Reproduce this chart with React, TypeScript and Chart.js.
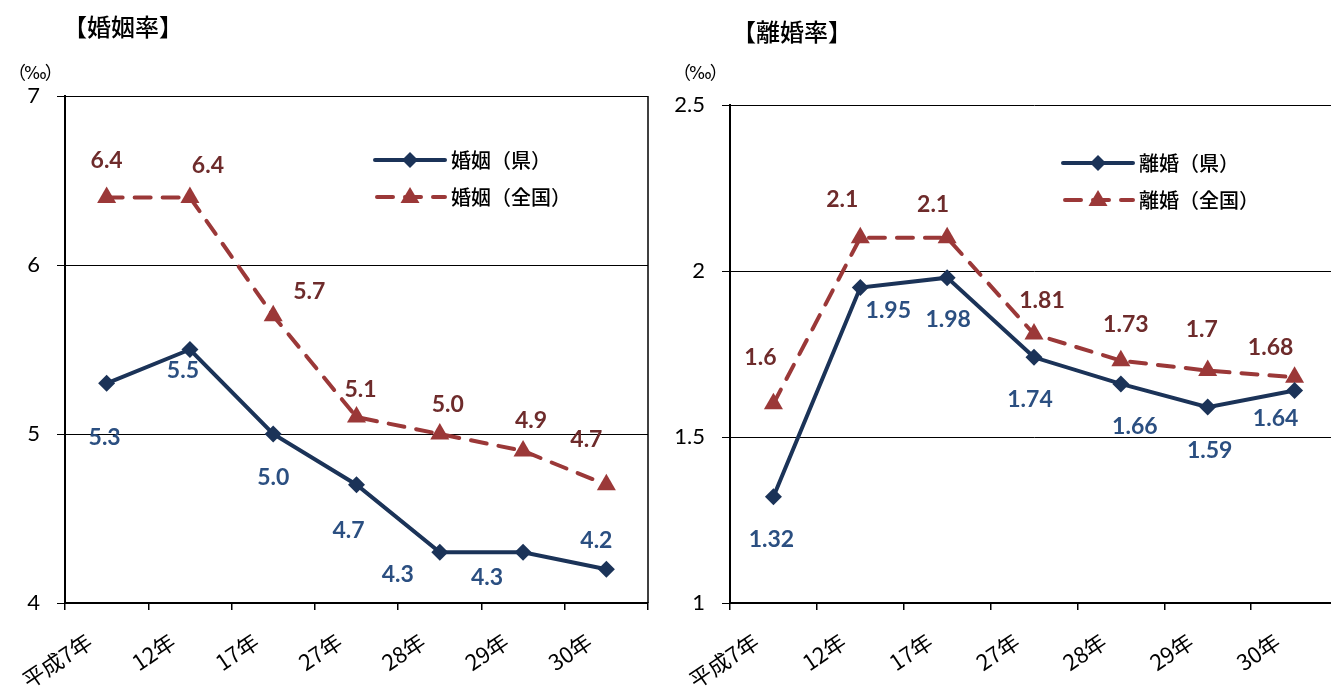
import React, { useEffect, useRef } from "react";
import { Chart, registerables } from "chart.js";

Chart.register(...registerables);

const categories = ["平成7年", "12年", "17年", "27年", "28年", "29年", "30年"];

const marriagePref = [5.3, 5.5, 5.0, 4.7, 4.3, 4.3, 4.2];
const marriageNation = [6.4, 6.4, 5.7, 5.1, 5.0, 4.9, 4.7];
const divorcePref = [1.32, 1.95, 1.98, 1.74, 1.66, 1.59, 1.64];
const divorceNation = [1.6, 2.1, 2.1, 1.81, 1.73, 1.7, 1.68];

const marriageTicks = [4, 5, 6, 7];
const divorceTicks = [1, 1.5, 2, 2.5];

const marriageLegend = ["婚姻（県）", "婚姻（全国）"];
const divorceLegend = ["離婚（県）", "離婚（全国）"];

// label offsets (dx, dy) relative to each point
const marriagePrefOff = [[-2, 54], [-7, 21], [0, 44], [-8, 46], [-42, 22], [-36, 25], [-10, -29]];
const marriageNationOff = [[0, -37], [18, -32], [36, -24], [4, -28], [8, -29], [8, -30], [-20, -45]];
const divorcePrefOff = [[-2, 43], [28, 23], [1, 42], [-4, 42], [14, 43], [2, 43], [-19, 28]];
const divorceNationOff = [[-13, -46], [-18, -38], [-14, -33], [8, -34], [5, -36], [-6, -41], [-24, -30]];

const PREF_LINE = "#1B3358";
const NATION_LINE = "#9B3838";
const PREF_TEXT = "#2B4F81";
const NATION_TEXT = "#6E2B2B";
const JP = '"Noto Sans CJK JP", sans-serif';
const NUM = 'Lato, "Noto Sans", sans-serif';

type PanelCfg = {
  pref: number[];
  nation: number[];
  ticks: number[];
  legend: string[];
  prefOff: number[][];
  nationOff: number[][];
  fmt: (v: number) => string;
  width: number;
  top: number;
  rightPad: number;
  yWidth: number;
  legendX: number;
  legendY: number;
  rightBorder: boolean;
};

function drawMarker(ctx: CanvasRenderingContext2D, style: string, x: number, y: number, r: number, color: string) {
  ctx.save();
  ctx.fillStyle = color;
  ctx.beginPath();
  if (style === "rectRot") {
    ctx.moveTo(x, y - r);
    ctx.lineTo(x + r, y);
    ctx.lineTo(x, y + r);
    ctx.lineTo(x - r, y);
  } else {
    ctx.moveTo(x, y - r);
    ctx.lineTo(x + r * 0.95, y + r * 0.6);
    ctx.lineTo(x - r * 0.95, y + r * 0.6);
  }
  ctx.closePath();
  ctx.fill();
  ctx.restore();
}

function Panel({ cfg }: { cfg: PanelCfg }) {
  const ref = useRef<HTMLCanvasElement | null>(null);
  useEffect(() => {
    if (!ref.current) return;
    const labelPlugin = {
      id: "pointLabels",
      afterDatasetsDraw(chart: any) {
        const ctx = chart.ctx;
        ctx.save();
        ctx.font = `bold 23px ${NUM}`;
        ctx.textAlign = "center";
        ctx.textBaseline = "middle";
        chart.data.datasets.forEach((ds: any, di: number) => {
          const meta = chart.getDatasetMeta(di);
          const offs = di === 0 ? cfg.prefOff : cfg.nationOff;
          ctx.fillStyle = di === 0 ? PREF_TEXT : NATION_TEXT;
          meta.data.forEach((pt: any, i: number) => {
            ctx.fillText(cfg.fmt(ds.data[i]), pt.x + offs[i][0], pt.y + offs[i][1]);
          });
        });
        ctx.restore();
      },
    };
    const legendPlugin = {
      id: "customLegend",
      afterDraw(chart: any) {
        const ctx = chart.ctx;
        ctx.save();
        const x0 = cfg.legendX;
        const rows = [cfg.legendY, cfg.legendY + 37];
        ctx.strokeStyle = PREF_LINE;
        ctx.lineWidth = 4;
        ctx.lineCap = "round";
        ctx.beginPath();
        ctx.moveTo(x0, rows[0]);
        ctx.lineTo(x0 + 70, rows[0]);
        ctx.stroke();
        drawMarker(ctx, "rectRot", x0 + 35, rows[0], 8, PREF_LINE);
        ctx.strokeStyle = NATION_LINE;
        ctx.setLineDash([16, 12]);
        ctx.beginPath();
        ctx.moveTo(x0 + 2, rows[1]);
        ctx.lineTo(x0 + 70, rows[1]);
        ctx.stroke();
        ctx.setLineDash([]);
        drawMarker(ctx, "triangle", x0 + 35, rows[1], 10, NATION_LINE);
        ctx.fillStyle = "#000";
        ctx.font = `500 20px ${JP}`;
        ctx.textAlign = "left";
        ctx.textBaseline = "middle";
        ctx.fillText(cfg.legend[0], x0 + 76, rows[0]);
        ctx.fillText(cfg.legend[1], x0 + 76, rows[1]);
        ctx.restore();
      },
    };
    const borderPlugin = {
      id: "rightBorder",
      afterDraw(chart: any) {
        if (!cfg.rightBorder) return;
        const { ctx, chartArea } = chart;
        ctx.save();
        ctx.strokeStyle = "#000";
        ctx.lineWidth = 1.5;
        ctx.beginPath();
        ctx.moveTo(chartArea.right, chartArea.top);
        ctx.lineTo(chartArea.right, chartArea.bottom);
        ctx.stroke();
        ctx.restore();
      },
    };
    const tmin = cfg.ticks[0];
    const tmax = cfg.ticks[cfg.ticks.length - 1];
    const step = cfg.ticks[1] - cfg.ticks[0];
    const chart = new Chart(ref.current, {
      type: "line",
      data: {
        labels: categories,
        datasets: [
          {
            label: cfg.legend[0],
            data: cfg.pref,
            borderColor: PREF_LINE,
            backgroundColor: PREF_LINE,
            borderWidth: 4,
            pointStyle: "rectRot",
            pointRadius: 8.5,
            pointBackgroundColor: PREF_LINE,
            pointBorderColor: PREF_LINE,
            pointBorderWidth: 0,
            tension: 0,
          },
          {
            label: cfg.legend[1],
            data: cfg.nation,
            borderColor: NATION_LINE,
            backgroundColor: NATION_LINE,
            borderWidth: 4,
            borderDash: [16, 12],
            borderCapStyle: "round",
            pointStyle: "triangle",
            pointRadius: 11,
            pointBackgroundColor: NATION_LINE,
            pointBorderColor: NATION_LINE,
            pointBorderWidth: 0,
            tension: 0,
          },
        ],
      },
      options: {
        responsive: false,
        animation: false,
        devicePixelRatio: 1,
        layout: { padding: { top: cfg.top, right: cfg.rightPad, left: 0, bottom: 0 } },
        plugins: { legend: { display: false }, tooltip: { enabled: false }, title: { display: false } },
        scales: {
          x: {
            type: "category",
            offset: true,
            grid: {
              offset: true,
              drawOnChartArea: false,
              drawTicks: true,
              tickLength: 7,
              color: "#000",
              lineWidth: 1.5,
            },
            border: { color: "#000", width: 2 },
            ticks: {
              color: "#000",
              font: { family: JP, size: 22 },
              minRotation: 34,
              maxRotation: 34,
              padding: 18,
              labelOffset: -17,
              autoSkip: false,
            },
            afterFit: (s: any) => {
              s.height = 94;
            },
          },
          y: {
            min: tmin,
            max: tmax,
            ticks: {
              stepSize: step,
              color: "#000",
              font: { family: NUM, size: 22 },
              padding: 17,
              callback: (v: any) => String(v),
            },
            grid: { color: "#000", lineWidth: 1, tickLength: 8 },
            border: { color: "#000", width: 2 },
            afterFit: (s: any) => {
              s.width = cfg.yWidth;
            },
          },
        },
      },
      plugins: [labelPlugin, legendPlugin, borderPlugin],
    } as any);
    return () => chart.destroy();
  }, [cfg]);
  return <canvas ref={ref} width={cfg.width} height={697} style={{ display: "block" }} />;
}

const leftCfg: PanelCfg = {
  pref: marriagePref,
  nation: marriageNation,
  ticks: marriageTicks,
  legend: marriageLegend,
  prefOff: marriagePrefOff,
  nationOff: marriageNationOff,
  fmt: (v) => v.toFixed(1),
  width: 660,
  top: 96,
  rightPad: 12,
  yWidth: 65,
  legendX: 375,
  legendY: 160,
  rightBorder: true,
};

const rightCfg: PanelCfg = {
  pref: divorcePref,
  nation: divorceNation,
  ticks: divorceTicks,
  legend: divorceLegend,
  prefOff: divorcePrefOff,
  nationOff: divorceNationOff,
  fmt: (v) => String(v),
  width: 700,
  top: 105,
  rightPad: 22,
  yWidth: 70,
  legendX: 403,
  legendY: 163,
  rightBorder: false,
};

function Unit({ left }: { left: number }) {
  return (
    <div
      style={{
        position: "absolute",
        left,
        top: 62,
        fontFamily: JP,
        fontSize: 18,
        lineHeight: 1,
        color: "#000",
        whiteSpace: "nowrap",
        letterSpacing: -2,
      }}
    >
      （<span style={{ fontFamily: '"DejaVu Sans", sans-serif', fontSize: 17 }}>‰</span>）
    </div>
  );
}

export default function App() {
  const textStyle: React.CSSProperties = {
    position: "absolute",
    fontFamily: JP,
    color: "#000",
    whiteSpace: "nowrap",
    lineHeight: 1,
  };
  return (
    <div style={{ position: "fixed", left: 0, top: 0, width: 1331, height: 697, overflow: "hidden", background: "#fff" }}>
      <div style={{ position: "absolute", left: 0, top: 0 }}>
        <Panel cfg={leftCfg} />
      </div>
      <div style={{ position: "absolute", left: 660, top: 0 }}>
        <Panel cfg={rightCfg} />
      </div>
      <div style={{ ...textStyle, left: 63, top: 14, fontSize: 24, fontWeight: 500 }}>【婚姻率】</div>
      <div style={{ ...textStyle, left: 732, top: 19, fontSize: 24, fontWeight: 500 }}>【離婚率】</div>
      <Unit left={8} />
      <Unit left={673} />
    </div>
  );
}
